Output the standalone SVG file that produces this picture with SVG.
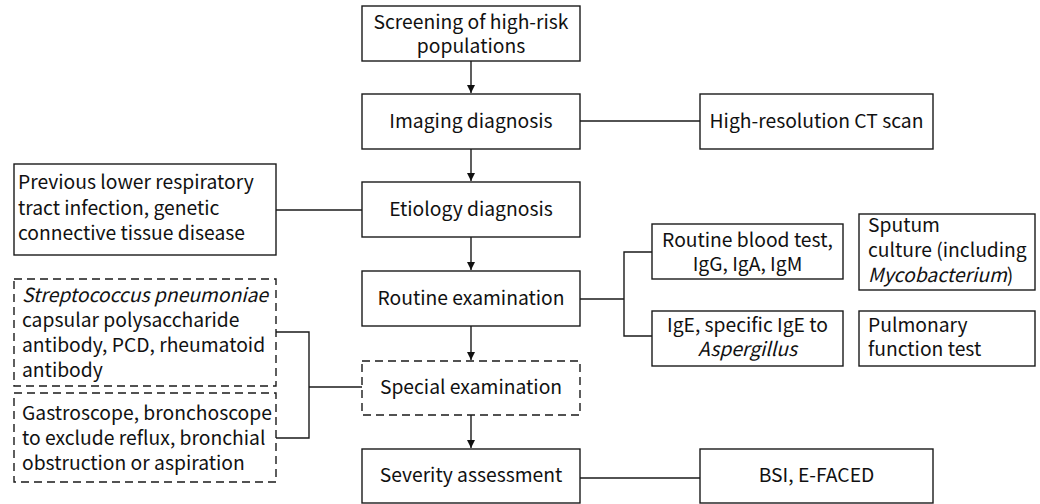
<svg xmlns="http://www.w3.org/2000/svg" width="1040" height="504" viewBox="0 0 1040 504">
<style>
.b{fill:#fff;stroke:#1a1a1a;stroke-width:1.4}
.d{fill:#fff;stroke:#1a1a1a;stroke-width:1.4;stroke-dasharray:8 5}
.t{font-family:"Noto Sans CJK SC","Noto Sans","Liberation Sans",sans-serif;font-size:19.3px;fill:#111}
.c{text-anchor:middle}
.l{fill:none;stroke:#1a1a1a;stroke-width:1.4}
</style>
<defs>
<marker id="ah" markerWidth="10" markerHeight="10" refX="9" refY="5" orient="auto" markerUnits="userSpaceOnUse">
<path d="M1,1 L9,5 L1,9 Z" fill="#111"/>
</marker>
</defs>
<g id="connectors">
<line class="l" x1="471" y1="61" x2="471" y2="93" marker-end="url(#ah)"/>
<line class="l" x1="471" y1="149" x2="471" y2="181" marker-end="url(#ah)"/>
<line class="l" x1="471" y1="237" x2="471" y2="270" marker-end="url(#ah)"/>
<line class="l" x1="471" y1="326" x2="471" y2="360" marker-end="url(#ah)"/>
<line class="l" x1="471" y1="415" x2="471" y2="448" marker-end="url(#ah)"/>
<line class="l" x1="580" y1="121" x2="700" y2="121"/>
<line class="l" x1="276" y1="210" x2="362" y2="210"/>
<line class="l" x1="580" y1="299" x2="624" y2="299"/>
<polyline class="l" points="652,252 624,252 624,336 652,336"/>
<polyline class="l" points="276,332 309,332 309,438 276,438"/>
<line class="l" x1="309" y1="387" x2="362" y2="387"/>
<line class="l" x1="580" y1="478" x2="700" y2="478"/>
</g>
<g id="screening">
<rect class="b" x="362" y="6" width="218" height="55"/>
<text class="t c" x="471" y="29">Screening of high-risk</text>
<text class="t c" x="471" y="53">populations</text>
</g>
<g id="imaging">
<rect class="b" x="362" y="94" width="218" height="55"/>
<text class="t c" x="471" y="128">Imaging diagnosis</text>
</g>
<g id="hrct">
<rect class="b" x="700" y="94" width="233" height="55"/>
<text class="t c" x="816.5" y="128">High-resolution CT scan</text>
</g>
<g id="etiology">
<rect class="b" x="362" y="182" width="218" height="55"/>
<text class="t c" x="471" y="216">Etiology diagnosis</text>
</g>
<g id="previous">
<rect class="b" x="14" y="164" width="262" height="91"/>
<text class="t" x="18" y="189">Previous lower respiratory</text>
<text class="t" x="18" y="215">tract infection, genetic</text>
<text class="t" x="18" y="240">connective tissue disease</text>
</g>
<g id="routine">
<rect class="b" x="362" y="271" width="218" height="55"/>
<text class="t c" x="471" y="305">Routine examination</text>
</g>
<g id="blood">
<rect class="b" x="652" y="224" width="191" height="55"/>
<text class="t c" x="747.5" y="247">Routine blood test,</text>
<text class="t c" x="747.5" y="271">IgG, IgA, IgM</text>
</g>
<g id="sputum">
<rect class="b" x="859" y="214" width="176" height="76"/>
<text class="t" x="868" y="232">Sputum</text>
<text class="t" x="868" y="257">culture (including</text>
<text class="t" x="868" y="282"><tspan font-style="italic">Mycobacterium</tspan>)</text>
</g>
<g id="ige">
<rect class="b" x="652" y="311" width="191" height="55"/>
<text class="t c" x="747.5" y="332">IgE, specific IgE to</text>
<text class="t c" x="747.5" y="356" font-style="italic">Aspergillus</text>
</g>
<g id="pulmonary">
<rect class="b" x="859" y="311" width="176" height="55"/>
<text class="t" x="868" y="332">Pulmonary</text>
<text class="t" x="868" y="356">function test</text>
</g>
<g id="strep">
<rect class="d" x="14" y="279" width="262" height="107"/>
<text class="t" x="22" y="302" font-style="italic">Streptococcus pneumoniae</text>
<text class="t" x="22" y="327">capsular polysaccharide</text>
<text class="t" x="22" y="352">antibody, PCD, rheumatoid</text>
<text class="t" x="22" y="377">antibody</text>
</g>
<g id="gastro">
<rect class="d" x="14" y="393" width="262" height="89"/>
<text class="t" x="22" y="420">Gastroscope, bronchoscope</text>
<text class="t" x="22" y="445">to exclude reflux, bronchial</text>
<text class="t" x="22" y="470">obstruction or aspiration</text>
</g>
<g id="special">
<rect class="d" x="362" y="361" width="218" height="54"/>
<text class="t c" x="471" y="394">Special examination</text>
</g>
<g id="severity">
<rect class="b" x="362" y="449" width="218" height="54"/>
<text class="t c" x="471" y="482">Severity assessment</text>
</g>
<g id="bsi">
<rect class="b" x="700" y="449" width="233" height="54"/>
<text class="t c" x="816.5" y="482">BSI, E-FACED</text>
</g>
</svg>
